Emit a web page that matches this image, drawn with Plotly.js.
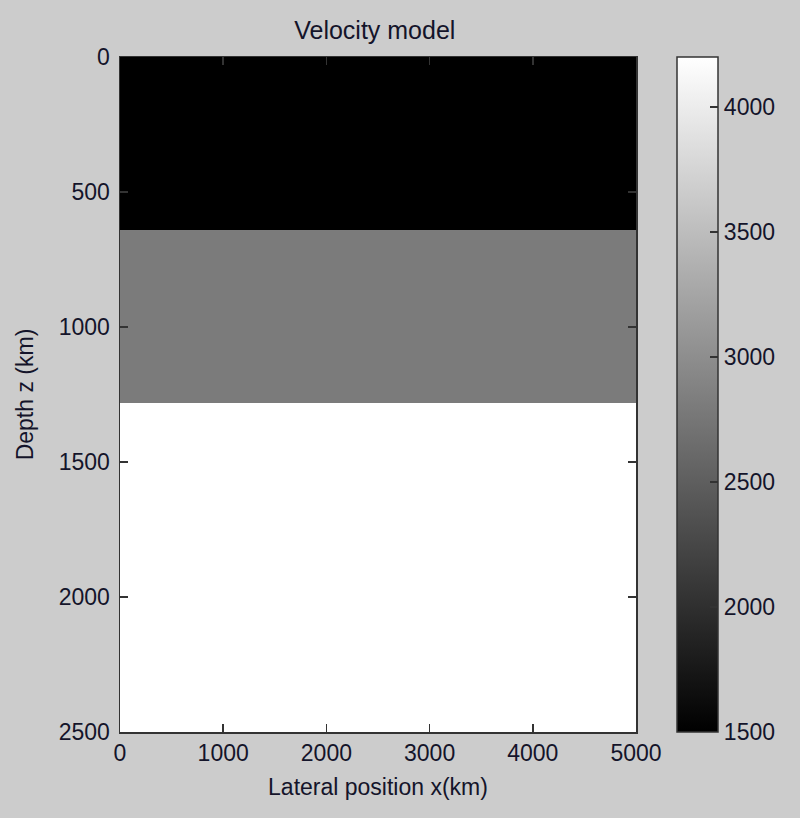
<!DOCTYPE html>
<html>
<head>
<meta charset="utf-8">
<script src="https://cdn.plot.ly/plotly-3.0.1.min.js"></script>
<style>
html,body{margin:0;padding:0;background:#cccccc;}
#chart{width:800px;height:818px;}
</style>
</head>
<body>
<div id="chart"></div>
<script>
// Layer model data
var xEdges = [0, 5000];                 // lateral extent (km)
var depthEdges = [0, 640, 1280, 2500];  // layer boundaries (km)
var velocities = [1500, 2800, 4200];    // layer velocities
var xTicks = [0, 1000, 2000, 3000, 4000, 5000];
var yTicks = [0, 500, 1000, 1500, 2000, 2500];
var cbTicks = [1500, 2000, 2500, 3000, 3500, 4000];

var z = velocities.map(function(v){ return [v]; });

var fontFam = 'Arial, "Liberation Sans", Helvetica, sans-serif';
var txtColor = '#14142a';

var trace = {
  type: 'heatmap',
  x: xEdges,
  y: depthEdges,
  z: z,
  zmin: 1500,
  zmax: 4200,
  colorscale: [[0, '#000000'], [1, '#ffffff']],
  hoverinfo: 'skip',
  colorbar: {
    x: 1.0795,
    xanchor: 'left',
    xpad: 0,
    ypad: 0,
    y: 0.5,
    yanchor: 'middle',
    len: 1.0,
    lenmode: 'fraction',
    thickness: 41,
    thicknessmode: 'pixels',
    outlinewidth: 1.5,
    outlinecolor: '#333333',
    tickmode: 'array',
    tickvals: cbTicks,
    ticktext: cbTicks.map(String),
    ticks: 'inside',
    ticklen: 8,
    tickwidth: 1.5,
    tickcolor: '#333333',
    tickfont: {family: fontFam, size: 23, color: txtColor},
    ticklabelposition: 'outside'
  }
};

var layout = {
  width: 800,
  height: 818,
  paper_bgcolor: '#cccccc',
  plot_bgcolor: '#cccccc',
  margin: {l: 120, r: 164, t: 57, b: 86, pad: 0},
  title: {
    text: 'Velocity model',
    font: {family: fontFam, size: 25, color: txtColor},
    x: 0.4685, xanchor: 'center',
    y: 0.963, yanchor: 'middle'
  },
  xaxis: {
    range: [0, 5000],
    tickmode: 'array',
    tickvals: xTicks,
    ticktext: xTicks.map(String),
    ticks: 'inside',
    ticklen: 8,
    tickwidth: 1.5,
    tickcolor: '#333333',
    showline: true,
    linecolor: '#333333',
    linewidth: 1.5,
    mirror: 'ticks',
    showgrid: false,
    zeroline: false,
    tickfont: {family: fontFam, size: 23, color: txtColor},
    title: {text: 'Lateral position x(km)', font: {family: fontFam, size: 23, color: txtColor}, standoff: 14}
  },
  yaxis: {
    range: [2500, 0],
    tickmode: 'array',
    tickvals: yTicks,
    ticktext: yTicks.map(String),
    ticks: 'inside',
    ticklen: 8,
    tickwidth: 1.5,
    tickcolor: '#333333',
    showline: true,
    linecolor: '#333333',
    linewidth: 1.5,
    mirror: 'ticks',
    showgrid: false,
    zeroline: false,
    ticklabelstandoff: 4,
    tickfont: {family: fontFam, size: 23, color: txtColor},
    title: {text: 'Depth z (km)', font: {family: fontFam, size: 23, color: txtColor}, standoff: 18}
  }
};

Plotly.newPlot('chart', [trace], layout, {displayModeBar: false, staticPlot: true});
</script>
</body>
</html>
